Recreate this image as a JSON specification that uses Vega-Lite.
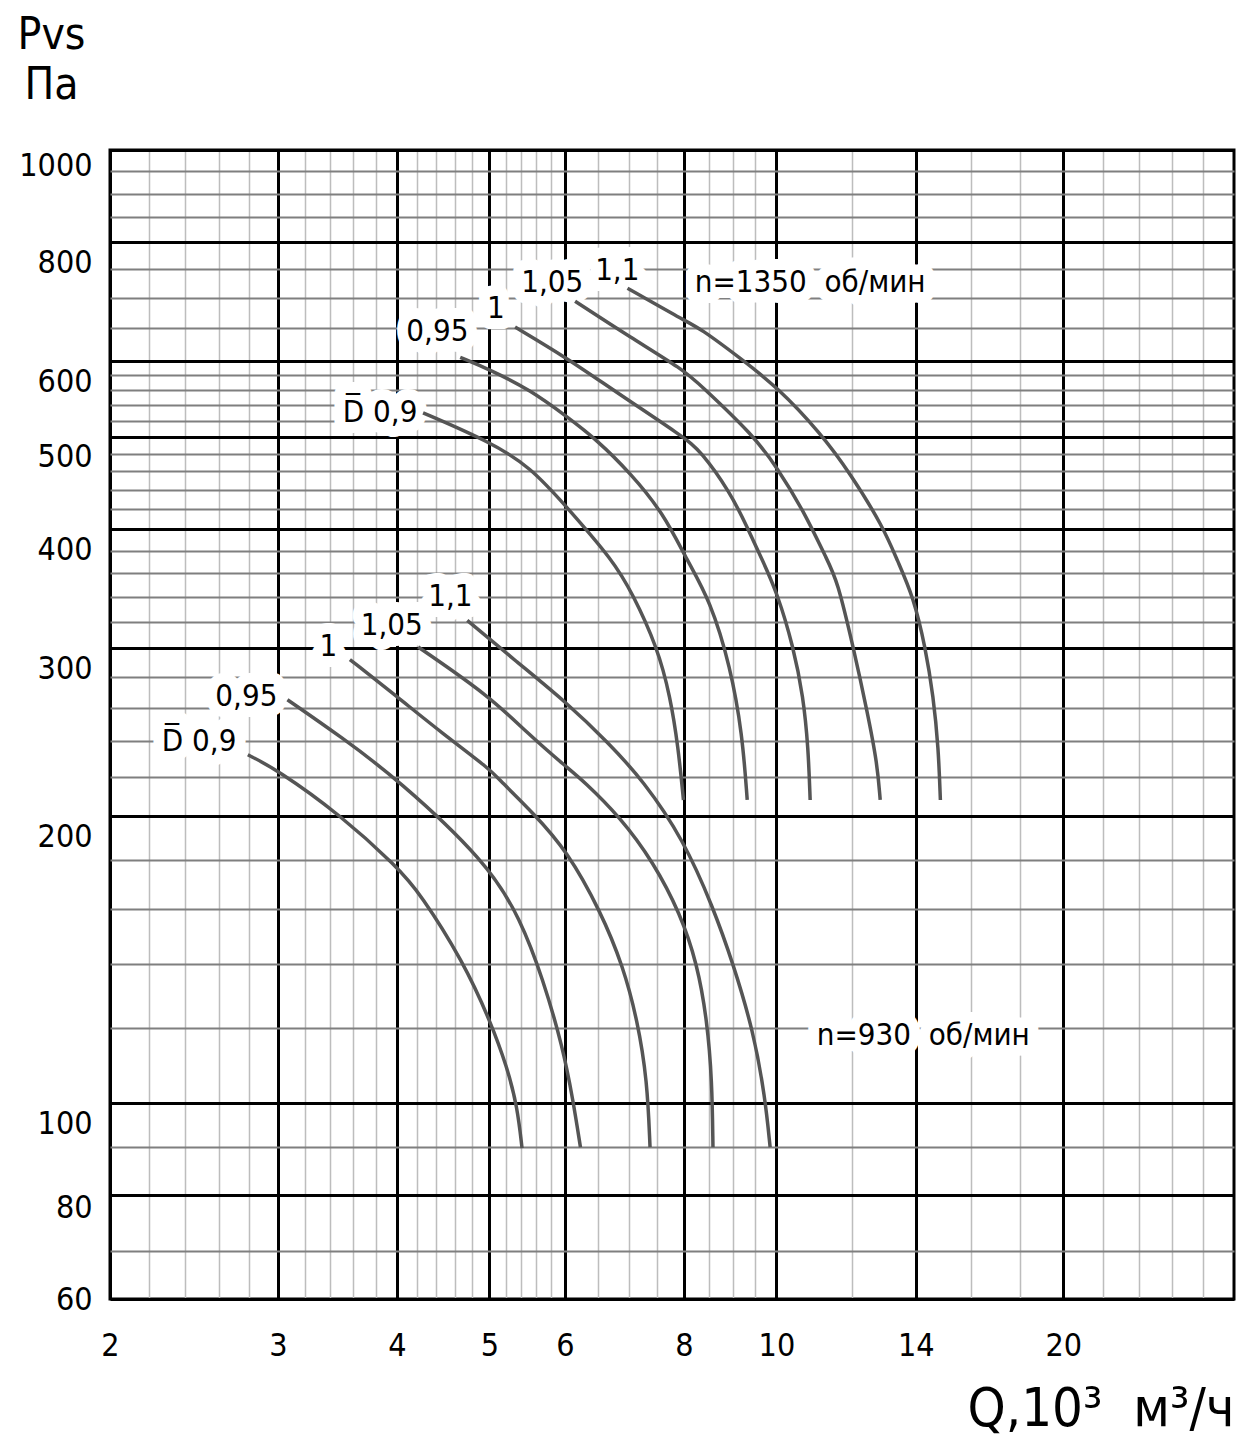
{
  "$schema": "https://vega.github.io/schema/vega-lite/v6.json",
  "width": 1124,
  "height": 1149,
  "autosize": {"type": "none"},
  "padding": {"left": 110, "top": 150, "right": 17, "bottom": 145},
  "background": "white",
  "config": {
    "view": {"stroke": "black", "strokeWidth": 3},
    "font": "Liberation Sans Narrow, DejaVu Sans Condensed, sans-serif"
  },
  "datasets": {
    "curves": [
      {"c": "u0.9", "i": 0, "q": 4.26, "p": 530}, {"c": "u0.9", "i": 1, "q": 5.01, "p": 494}, {"c": "u0.9", "i": 2, "q": 5.52, "p": 465}, {"c": "u0.9", "i": 3, "q": 6.03, "p": 422}, {"c": "u0.9", "i": 4, "q": 6.74, "p": 371}, {"c": "u0.9", "i": 5, "q": 7.06, "p": 343}, {"c": "u0.9", "i": 6, "q": 7.50, "p": 301}, {"c": "u0.9", "i": 7, "q": 7.74, "p": 267}, {"c": "u0.9", "i": 8, "q": 7.89, "p": 236}, {"c": "u0.9", "i": 9, "q": 7.99, "p": 208},
      {"c": "u0.95", "i": 0, "q": 4.66, "p": 606}, {"c": "u0.95", "i": 1, "q": 5.01, "p": 588}, {"c": "u0.95", "i": 2, "q": 5.52, "p": 560}, {"c": "u0.95", "i": 3, "q": 6.03, "p": 525}, {"c": "u0.95", "i": 4, "q": 6.49, "p": 496}, {"c": "u0.95", "i": 5, "q": 7.03, "p": 458}, {"c": "u0.95", "i": 6, "q": 7.61, "p": 416}, {"c": "u0.95", "i": 7, "q": 8.06, "p": 371}, {"c": "u0.95", "i": 8, "q": 8.52, "p": 337}, {"c": "u0.95", "i": 9, "q": 8.95, "p": 287}, {"c": "u0.95", "i": 10, "q": 9.21, "p": 244}, {"c": "u0.95", "i": 11, "q": 9.32, "p": 208},
      {"c": "u1", "i": 0, "q": 5.32, "p": 652}, {"c": "u1", "i": 1, "q": 6.03, "p": 605}, {"c": "u1", "i": 2, "q": 6.74, "p": 560}, {"c": "u1", "i": 3, "q": 7.99, "p": 500}, {"c": "u1", "i": 4, "q": 8.32, "p": 484}, {"c": "u1", "i": 5, "q": 8.95, "p": 437}, {"c": "u1", "i": 6, "q": 9.32, "p": 402}, {"c": "u1", "i": 7, "q": 9.67, "p": 371}, {"c": "u1", "i": 8, "q": 10.02, "p": 343}, {"c": "u1", "i": 9, "q": 10.42, "p": 301}, {"c": "u1", "i": 10, "q": 10.67, "p": 267}, {"c": "u1", "i": 11, "q": 10.80, "p": 236}, {"c": "u1", "i": 12, "q": 10.85, "p": 208},
      {"c": "u1.05", "i": 0, "q": 6.15, "p": 694}, {"c": "u1.05", "i": 1, "q": 7.03, "p": 636}, {"c": "u1.05", "i": 2, "q": 7.99, "p": 588}, {"c": "u1.05", "i": 3, "q": 8.32, "p": 567}, {"c": "u1.05", "i": 4, "q": 9.46, "p": 502}, {"c": "u1.05", "i": 5, "q": 10.02, "p": 464}, {"c": "u1.05", "i": 6, "q": 10.67, "p": 419}, {"c": "u1.05", "i": 7, "q": 11.31, "p": 371}, {"c": "u1.05", "i": 8, "q": 11.58, "p": 354}, {"c": "u1.05", "i": 9, "q": 12.04, "p": 301}, {"c": "u1.05", "i": 10, "q": 12.46, "p": 257}, {"c": "u1.05", "i": 11, "q": 12.76, "p": 227}, {"c": "u1.05", "i": 12, "q": 12.85, "p": 208},
      {"c": "u1.1", "i": 0, "q": 6.98, "p": 716}, {"c": "u1.1", "i": 1, "q": 7.99, "p": 663}, {"c": "u1.1", "i": 2, "q": 8.32, "p": 650}, {"c": "u1.1", "i": 3, "q": 9.16, "p": 605}, {"c": "u1.1", "i": 4, "q": 10.02, "p": 564}, {"c": "u1.1", "i": 5, "q": 11.12, "p": 505}, {"c": "u1.1", "i": 6, "q": 11.95, "p": 458}, {"c": "u1.1", "i": 7, "q": 12.95, "p": 402}, {"c": "u1.1", "i": 8, "q": 13.39, "p": 371}, {"c": "u1.1", "i": 9, "q": 13.92, "p": 340}, {"c": "u1.1", "i": 10, "q": 14.33, "p": 301}, {"c": "u1.1", "i": 11, "q": 14.61, "p": 267}, {"c": "u1.1", "i": 12, "q": 14.79, "p": 236}, {"c": "u1.1", "i": 13, "q": 14.86, "p": 208},
      {"c": "l0.9", "i": 0, "q": 2.79, "p": 232}, {"c": "l0.9", "i": 1, "q": 2.99, "p": 224}, {"c": "l0.9", "i": 2, "q": 3.49, "p": 200.6}, {"c": "l0.9", "i": 3, "q": 4.00, "p": 177}, {"c": "l0.9", "i": 4, "q": 4.23, "p": 166}, {"c": "l0.9", "i": 5, "q": 4.69, "p": 141}, {"c": "l0.9", "i": 6, "q": 5.01, "p": 122}, {"c": "l0.9", "i": 7, "q": 5.22, "p": 109}, {"c": "l0.9", "i": 8, "q": 5.35, "p": 99}, {"c": "l0.9", "i": 9, "q": 5.41, "p": 89.7},
      {"c": "l0.95", "i": 0, "q": 3.07, "p": 265}, {"c": "l0.95", "i": 1, "q": 3.50, "p": 242}, {"c": "l0.95", "i": 2, "q": 4.00, "p": 219}, {"c": "l0.95", "i": 3, "q": 4.97, "p": 179}, {"c": "l0.95", "i": 4, "q": 5.39, "p": 156}, {"c": "l0.95", "i": 5, "q": 5.69, "p": 135}, {"c": "l0.95", "i": 6, "q": 5.97, "p": 114.5}, {"c": "l0.95", "i": 7, "q": 6.12, "p": 100.7}, {"c": "l0.95", "i": 8, "q": 6.23, "p": 89.9},
      {"c": "l1", "i": 0, "q": 3.57, "p": 292}, {"c": "l1", "i": 1, "q": 4.00, "p": 267}, {"c": "l1", "i": 2, "q": 4.47, "p": 244}, {"c": "l1", "i": 3, "q": 5.01, "p": 224}, {"c": "l1", "i": 4, "q": 5.13, "p": 218}, {"c": "l1", "i": 5, "q": 5.56, "p": 201.5}, {"c": "l1", "i": 6, "q": 6.03, "p": 184}, {"c": "l1", "i": 7, "q": 6.54, "p": 159}, {"c": "l1", "i": 8, "q": 6.91, "p": 139}, {"c": "l1", "i": 9, "q": 7.15, "p": 122}, {"c": "l1", "i": 10, "q": 7.32, "p": 105.7}, {"c": "l1", "i": 11, "q": 7.37, "p": 89.9},
      {"c": "l1.05", "i": 0, "q": 4.21, "p": 301}, {"c": "l1.05", "i": 1, "q": 5.01, "p": 267}, {"c": "l1.05", "i": 2, "q": 5.49, "p": 244}, {"c": "l1.05", "i": 3, "q": 6.03, "p": 225}, {"c": "l1.05", "i": 4, "q": 6.27, "p": 218}, {"c": "l1.05", "i": 5, "q": 6.86, "p": 199.5}, {"c": "l1.05", "i": 6, "q": 7.43, "p": 179}, {"c": "l1.05", "i": 7, "q": 7.93, "p": 158}, {"c": "l1.05", "i": 8, "q": 8.26, "p": 140}, {"c": "l1.05", "i": 9, "q": 8.46, "p": 122}, {"c": "l1.05", "i": 10, "q": 8.56, "p": 105.7}, {"c": "l1.05", "i": 11, "q": 8.58, "p": 89.9},
      {"c": "l1.1", "i": 0, "q": 4.74, "p": 321}, {"c": "l1.1", "i": 1, "q": 5.35, "p": 290}, {"c": "l1.1", "i": 2, "q": 6.03, "p": 263}, {"c": "l1.1", "i": 3, "q": 6.66, "p": 239}, {"c": "l1.1", "i": 4, "q": 7.25, "p": 218}, {"c": "l1.1", "i": 5, "q": 7.99, "p": 189}, {"c": "l1.1", "i": 6, "q": 8.58, "p": 160.6}, {"c": "l1.1", "i": 7, "q": 9.01, "p": 140}, {"c": "l1.1", "i": 8, "q": 9.46, "p": 119}, {"c": "l1.1", "i": 9, "q": 9.73, "p": 101.5}, {"c": "l1.1", "i": 10, "q": 9.85, "p": 89.9}
    ],
    "labels": [
      {"t": "D\u0305 0,9", "q": 3.84, "p": 530},
      {"t": "0,95", "q": 4.41, "p": 644},
      {"t": "1", "q": 5.08, "p": 681},
      {"t": "1,05", "q": 5.82, "p": 725},
      {"t": "1,1", "q": 6.81, "p": 747},
      {"t": "n=1350\u00a0 об/мин", "q": 10.85, "p": 725},
      {"t": "D\u0305 0,9", "q": 2.48, "p": 239},
      {"t": "0,95", "q": 2.78, "p": 267},
      {"t": "1", "q": 3.39, "p": 301},
      {"t": "1,05", "q": 3.95, "p": 317},
      {"t": "1,1", "q": 4.55, "p": 340},
      {"t": "n=930\u00a0 об/мин", "q": 14.26, "p": 117.6}
    ]
  },
  "encoding": {
    "x": {
      "field": "q", "type": "quantitative",
      "scale": {"type": "log", "domain": [2, 30.2], "nice": false},
      "axis": {
        "values": [2, 2.2, 2.4, 2.6, 2.8, 3, 3.2, 3.4, 3.6, 3.8, 4, 4.2, 4.4, 4.6, 4.8, 5, 5.2, 5.4, 5.6, 5.8, 6, 6.5, 7, 7.5, 8, 8.5, 9, 9.5, 10, 12, 14, 16, 18, 20, 22, 24, 26, 28],
        "grid": true, "ticks": false, "domain": false,
        "gridColor": {"condition": {"test": "indexof([2,3,4,5,6,8,10,14,20], datum.value) >= 0", "value": "#000000"}, "value": "#bdbdbd"},
        "gridWidth": {"condition": {"test": "indexof([2,3,4,5,6,8,10,14,20], datum.value) >= 0", "value": 3}, "value": 1.5},
        "labelExpr": "indexof([2,3,4,5,6,8,10,14,20], datum.value) >= 0 ? '' + datum.value : ''",
        "labelFontSize": 32, "labelColor": "#000000", "labelPadding": 31,
        "labelOverlap": false, "labelBound": false, "labelFlush": false,
        "title": "Q,10³\u00a0 м³/ч", "titleFontSize": 54, "titleFontWeight": "normal", "titleColor": "#000000",
        "titleAlign": "right", "titleAnchor": "end", "titleX": 1124, "titleY": 126, "titleBaseline": "alphabetic"
      }
    },
    "y": {
      "field": "p", "type": "quantitative",
      "scale": {"type": "log", "domain": [62.3, 1000], "nice": false},
      "axis": {
        "values": [1000, 950, 900, 850, 800, 750, 700, 650, 600, 580, 560, 540, 520, 500, 480, 460, 440, 420, 400, 380, 360, 340, 320, 300, 280, 260, 240, 220, 200, 180, 160, 140, 120, 100, 90, 80, 70, 62.3],
        "grid": true, "ticks": false, "domain": false,
        "gridColor": {"condition": {"test": "indexof([1000,800,600,500,400,300,200,100,80,62.3], datum.value) >= 0", "value": "#000000"}, "value": "#7f7f7f"},
        "gridWidth": {"condition": {"test": "indexof([1000,800,600,500,400,300,200,100,80,62.3], datum.value) >= 0", "value": 3}, "value": 2},
        "labelExpr": "indexof([1000,800,600,500,400,300,200,100,80], datum.value) >= 0 ? '' + datum.value : (datum.value < 63 ? '60' : '')",
        "labelFontSize": 32, "labelColor": "#000000", "labelPadding": 18,
        "labelOverlap": false, "labelBound": false, "labelFlush": false,
        "labelOffset": {"condition": [{"test": "datum.value < 70", "value": 0}, {"test": "datum.value < 90", "value": 12}, {"test": "datum.value > 990", "value": 15}], "value": 20},
        "title": ["Pvs", "Па"], "titleAngle": 0, "titleAlign": "center", "titleBaseline": "alphabetic",
        "titleX": -59, "titleY": -102, "titleFontSize": 44, "titleFontWeight": "normal", "titleLineHeight": 50, "titleColor": "#000000"
      }
    }
  },
  "layer": [
    {
      "data": {"name": "labels"},
      "mark": {"type": "text", "fontSize": 31, "align": "center", "baseline": "middle", "fill": "white", "stroke": "white", "strokeWidth": 22, "strokeJoin": "round"},
      "encoding": {"text": {"field": "t"}}
    },
    {
      "data": {"name": "curves"},
      "mark": {"type": "line", "color": "#555555", "strokeWidth": 3.5, "interpolate": "basis"},
      "encoding": {"detail": {"field": "c"}, "order": {"field": "i"}}
    },
    {
      "data": {"name": "labels"},
      "mark": {"type": "text", "fontSize": 31, "align": "center", "baseline": "middle", "fill": "black"},
      "encoding": {"text": {"field": "t"}}
    }
  ]
}
